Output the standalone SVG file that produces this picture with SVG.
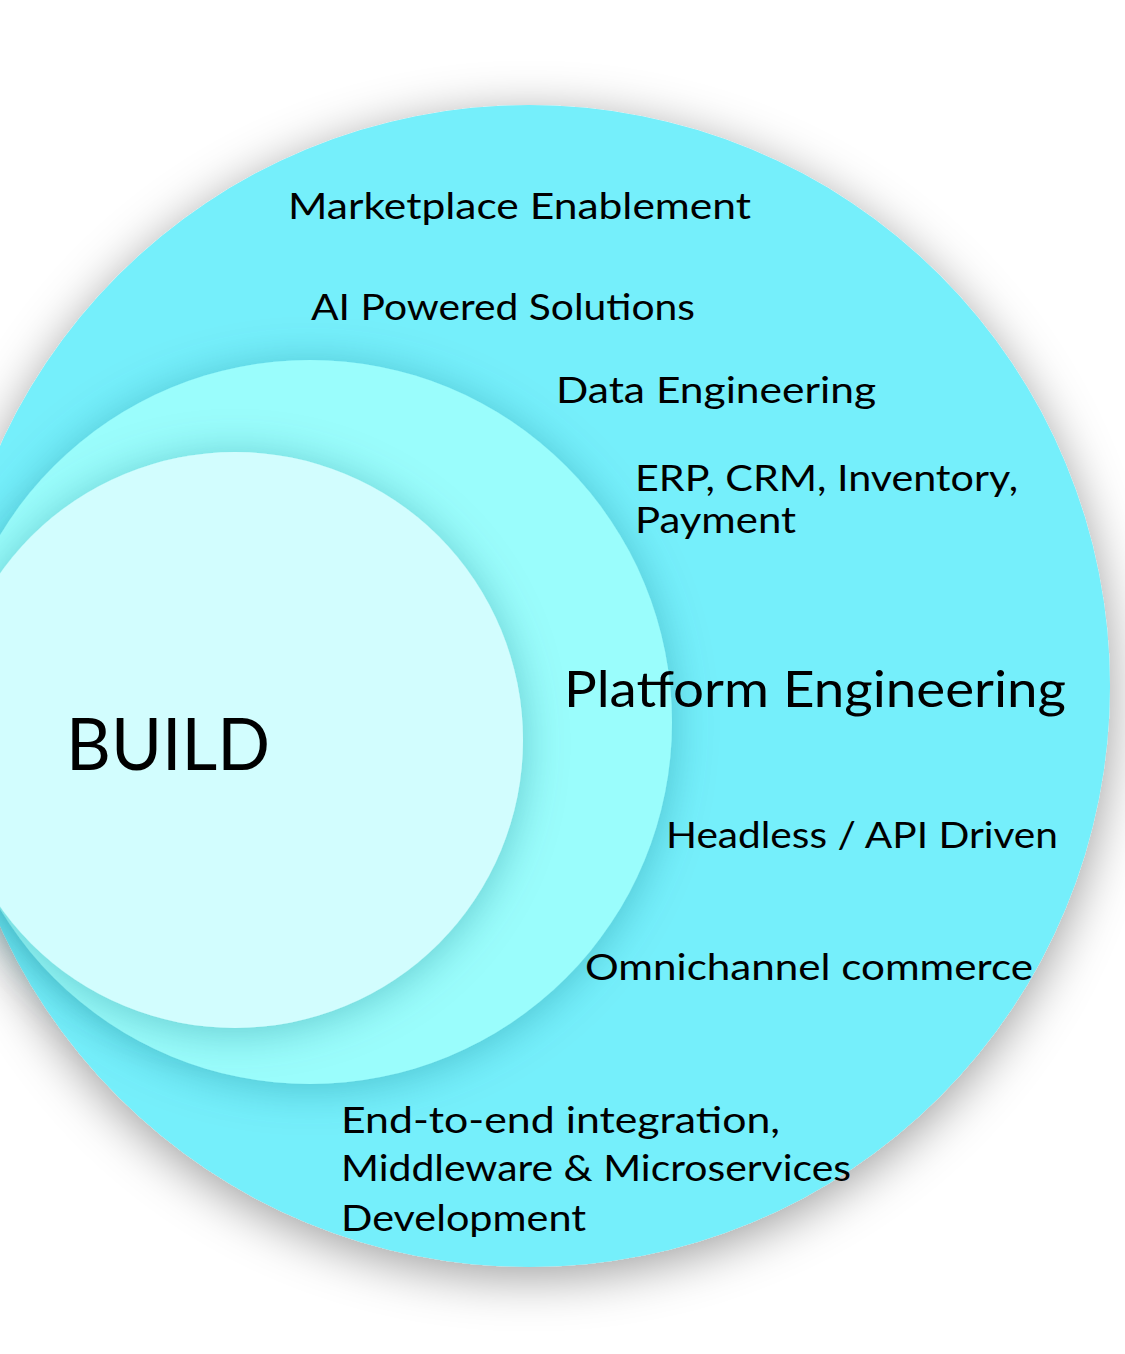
<svg xmlns="http://www.w3.org/2000/svg" width="1125" height="1354" viewBox="0 0 1125 1354">
  <defs>
    <filter id="outerShadow" x="-30%" y="-30%" width="160%" height="160%">
      <feDropShadow dx="0" dy="10" stdDeviation="25" flood-color="#000" flood-opacity="0.38"/>
    </filter>
    <filter id="innerShadow" x="-30%" y="-30%" width="160%" height="160%">
      <feDropShadow dx="0" dy="4" stdDeviation="22" flood-color="#0a6a78" flood-opacity="0.35"/>
    </filter>
  </defs>
  <style>
    .lbl { font-family: Lato, "Open Sans", "Liberation Sans", sans-serif; font-size: 36px; fill: #000; }
    .big { font-size: 51px; }
    .huge { font-size: 71px; }
  </style>
  <rect x="0" y="0" width="1125" height="1354" fill="#ffffff"/>

  <g id="outer-circle">
    <circle cx="529" cy="686" r="581" fill="#74EFFB" filter="url(#outerShadow)"/>
  </g>
  <g id="middle-circle">
    <circle cx="310" cy="722" r="362" fill="#9AFDFC" filter="url(#innerShadow)"/>
  </g>
  <g id="inner-circle">
    <circle cx="235" cy="740" r="288" fill="#D2FDFE" filter="url(#innerShadow)"/>
  </g>

  <g id="connectors"></g>

  <g id="label-marketplace"><text class="lbl" x="288" y="219" textLength="463" lengthAdjust="spacingAndGlyphs">Marketplace Enablement</text></g>
  <g id="label-ai"><text class="lbl" x="311" y="320" textLength="384" lengthAdjust="spacingAndGlyphs">AI Powered Solutions</text></g>
  <g id="label-data"><text class="lbl" x="556" y="403" textLength="320" lengthAdjust="spacingAndGlyphs">Data Engineering</text></g>
  <g id="label-erp">
    <text class="lbl" x="635" y="491" textLength="383" lengthAdjust="spacingAndGlyphs">ERP, CRM, Inventory,</text>
    <text class="lbl" x="635" y="533" textLength="161" lengthAdjust="spacingAndGlyphs">Payment</text>
  </g>
  <g id="label-platform"><text class="lbl big" x="564" y="707" textLength="502" lengthAdjust="spacingAndGlyphs">Platform Engineering</text></g>
  <g id="label-build"><text class="lbl huge" x="66" y="770" textLength="204" lengthAdjust="spacingAndGlyphs">BUILD</text></g>
  <g id="label-headless"><text class="lbl" x="666" y="848" textLength="392" lengthAdjust="spacingAndGlyphs">Headless / API Driven</text></g>
  <g id="label-omni"><text class="lbl" x="585" y="980" textLength="448" lengthAdjust="spacingAndGlyphs">Omnichannel commerce</text></g>
  <g id="label-integration">
    <text class="lbl" x="341" y="1133" textLength="439" lengthAdjust="spacingAndGlyphs">End-to-end integration,</text>
    <text class="lbl" x="341" y="1181" textLength="510" lengthAdjust="spacingAndGlyphs">Middleware &amp; Microservices</text>
    <text class="lbl" x="341" y="1231" textLength="245" lengthAdjust="spacingAndGlyphs">Development</text>
  </g>
</svg>
